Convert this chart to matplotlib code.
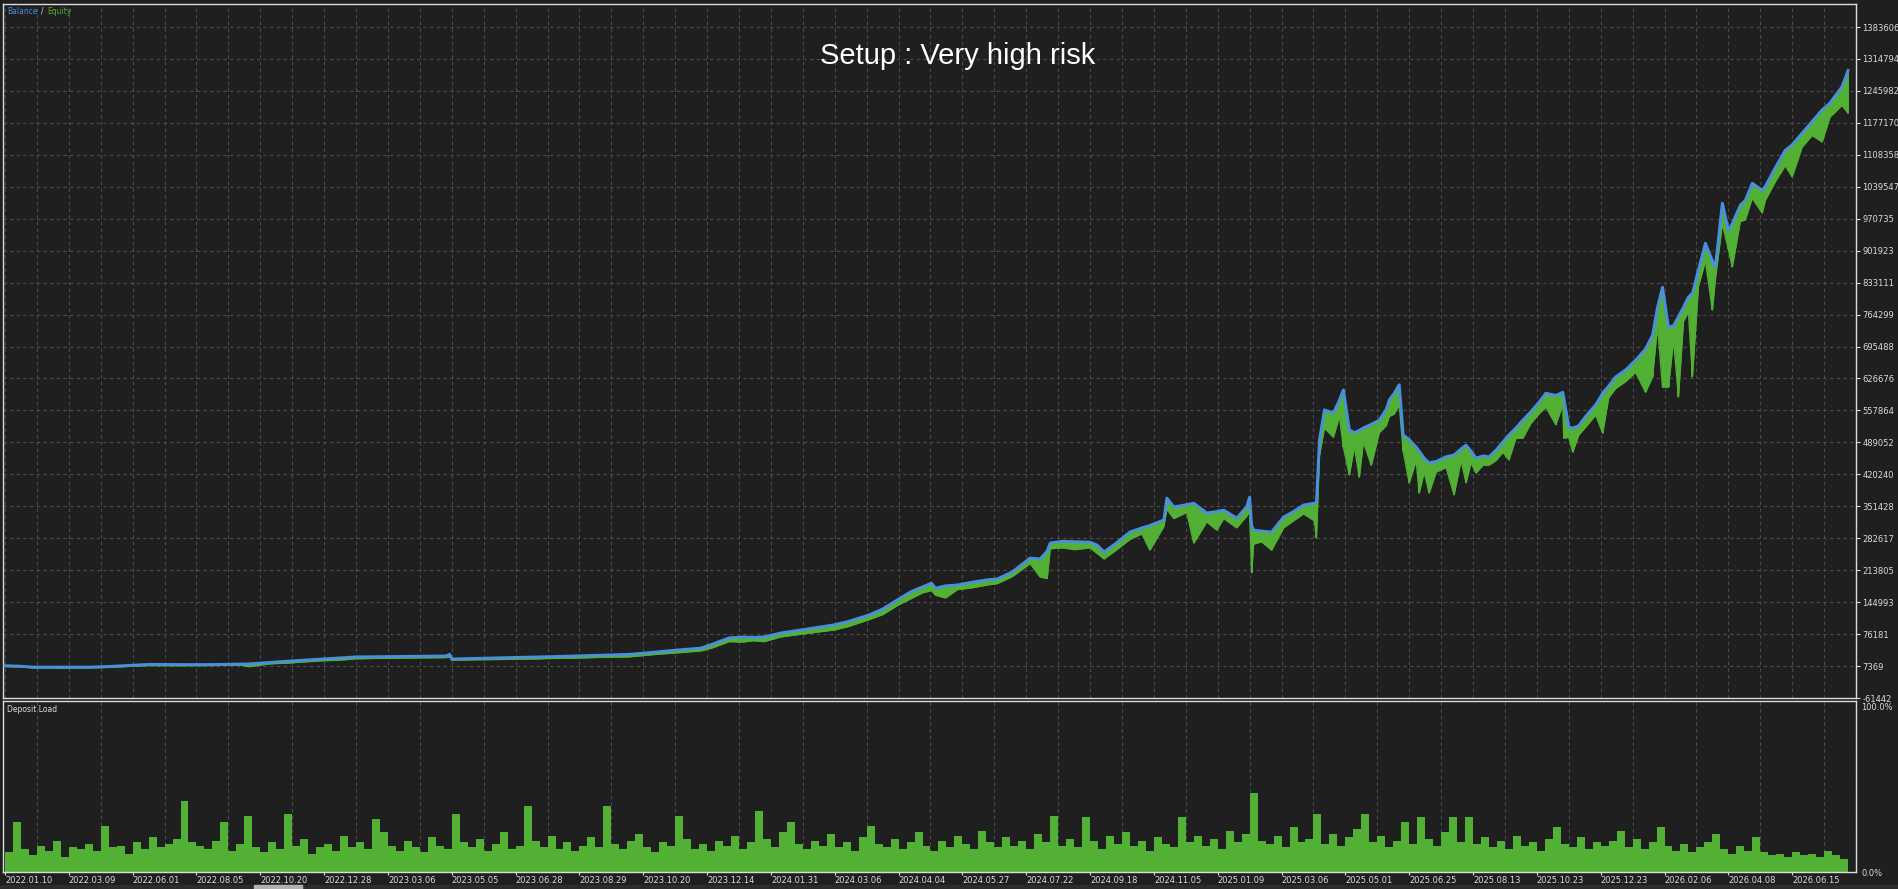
import numpy as np
import matplotlib
matplotlib.use("Agg")
import matplotlib.pyplot as plt
from matplotlib.patches import Rectangle

# Balance / equity curve (x = deal index)
deal_x = [0, 15, 28, 55, 85, 105, 118, 145, 175, 208, 235, 245, 265, 285, 315, 335, 352, 375, 395, 415,
          442, 446, 448, 475, 495, 525, 555, 580, 603, 625, 640, 655, 675, 698, 710, 726, 740, 750,
          761, 778, 795, 813, 831, 845, 866, 880, 895, 908, 920, 929, 933, 943, 955, 970, 985, 995,
          1010, 1028, 1038, 1045, 1048, 1060, 1073, 1088, 1095, 1102, 1113, 1128, 1140, 1148, 1162,
          1165, 1172, 1185, 1192, 1205, 1215, 1222, 1235, 1245, 1248, 1250, 1252, 1260, 1270, 1282,
          1292, 1302, 1313, 1315, 1318, 1323, 1332, 1338, 1342, 1348, 1353, 1358, 1362, 1370, 1378,
          1385, 1388, 1393, 1398, 1402, 1408, 1415, 1418, 1423, 1428, 1435, 1445, 1453, 1460, 1465,
          1470, 1475, 1482, 1488, 1495, 1502, 1508, 1515, 1522, 1530, 1538, 1545, 1555, 1562, 1563,
          1568, 1572, 1578, 1585, 1595, 1602, 1608, 1615, 1625, 1635, 1645, 1652, 1657, 1662, 1668,
          1673, 1678, 1683, 1688, 1692, 1698, 1705, 1712, 1715, 1722, 1728, 1732, 1740, 1745, 1752,
          1762, 1765, 1775, 1785, 1792, 1802, 1812, 1822, 1830, 1835, 1842, 1848]
balance = [8000, 7000, 5000, 5000, 5000, 6500, 8000, 11000, 10500, 10500, 11500, 12000, 15000, 18000,
           22000, 24500, 27000, 27500, 28000, 28500, 29000, 32500, 22500, 24000, 25000, 26500, 28000,
           29500, 31000, 32500, 35000, 38000, 42000, 46000, 55000, 68000, 70000, 69000, 70000, 78500,
           84000, 90000, 96000, 103000, 117000, 130000, 150000, 167000, 178000, 186000, 175000,
           180000, 182000, 188000, 193000, 195000, 210000, 240000, 238000, 255000, 272000, 276000,
           275000, 274000, 268000, 253000, 270000, 296000, 305000, 310000, 322000, 369000, 350000,
           355000, 358000, 337000, 340000, 343000, 326000, 350000, 371000, 310000, 300000, 298000,
           296000, 328000, 340000, 354000, 358000, 360000, 494000, 559000, 552000, 580000, 602000,
           516000, 510000, 515000, 520000, 528000, 537000, 560000, 580000, 595000, 613000, 505000,
           495000, 479000, 470000, 455000, 445000, 448000, 458000, 462000, 475000, 483000, 470000,
           455000, 460000, 458000, 472000, 490000, 505000, 520000, 537000, 555000, 575000, 595000,
           590000, 597000, 585000, 522000, 520000, 525000, 545000, 570000, 595000, 610000, 630000,
           645000, 666000, 690000, 720000, 780000, 823000, 737000, 740000, 760000, 780000, 802000,
           810000, 860000, 918000, 880000, 867000, 1004000, 946000, 960000, 1000000, 1010000,
           1047000, 1032000, 1040000, 1080000, 1118000, 1130000, 1155000, 1180000, 1205000,
           1220000, 1235000, 1255000, 1290000]
equity = [6500, 5500, 3500, 3000, 3500, 4500, 6000, 8500, 8000, 8500, 9500, 6000, 12000, 14000,
          18500, 20000, 23000, 24000, 24500, 25000, 25500, 27000, 20000, 21000, 21500, 22500, 24000,
          25000, 26500, 27000, 30000, 33000, 36000, 40000, 47000, 60000, 59000, 62000, 60000, 70000,
          75000, 80000, 85000, 92000, 107000, 118000, 138000, 152000, 165000, 170000, 160000,
          154000, 172000, 176000, 182000, 185000, 200000, 228000, 199000, 196000, 260000, 262000,
          258000, 262000, 250000, 238000, 255000, 280000, 292000, 257000, 308000, 345000, 325000,
          338000, 272000, 318000, 300000, 325000, 305000, 330000, 340000, 208000, 270000, 275000,
          257000, 305000, 320000, 335000, 320000, 283000, 460000, 520000, 500000, 545000, 479000,
          419000, 480000, 414000, 490000, 440000, 510000, 525000, 545000, 550000, 570000, 470000,
          402000, 450000, 380000, 425000, 380000, 425000, 435000, 376000, 450000, 402000, 445000,
          423000, 440000, 440000, 450000, 468000, 451000, 498000, 498000, 530000, 550000, 565000,
          527000, 570000, 498000, 500000, 468000, 505000, 522000, 548000, 509000, 585000, 605000,
          620000, 640000, 597000, 630000, 740000, 608000, 608000, 710000, 587000, 750000, 770000,
          630000, 825000, 880000, 774000, 840000, 960000, 905000, 867000, 965000, 968000,
          1015000, 983000, 1010000, 1050000, 1085000, 1061000, 1125000, 1150000, 1136000,
          1190000, 1200000, 1215000, 1198000]

# Deposit load in %, one value per 8 deals
deposit_load = [12, 30, 14, 10, 16, 13, 19, 9, 15, 14,
                17, 13, 28, 15, 16, 11, 18, 14, 21, 15,
                17, 20, 43, 18, 16, 14, 19, 30, 13, 17,
                34, 15, 12, 18, 14, 35, 16, 20, 11, 15,
                17, 13, 22, 15, 18, 14, 32, 24, 16, 13,
                19, 15, 12, 21, 16, 14, 35, 18, 15, 20,
                13, 17, 24, 14, 16, 40, 19, 15, 22, 14,
                18, 13, 16, 21, 15, 40, 17, 14, 19, 23,
                15, 12, 18, 16, 34, 20, 14, 17, 13, 19,
                16, 22, 14, 18, 37, 20, 15, 24, 30, 17,
                14, 19, 16, 23, 15, 18, 13, 21, 28, 17,
                15, 20, 14, 18, 24, 16, 13, 19, 15, 22,
                17, 14, 25, 18, 15, 21, 16, 19, 14, 23,
                18, 34, 16, 20, 15, 33, 19, 14, 22, 17,
                24, 16, 19, 13, 21, 17, 15, 33, 18, 22,
                16, 20, 14, 25, 18, 23, 48, 19, 17, 22,
                15, 27, 18, 20, 35, 17, 23, 16, 21, 26,
                35, 18, 22, 15, 19, 30, 17, 33, 20, 16,
                24, 33, 18, 33, 17, 21, 15, 19, 14, 22,
                16, 18, 13, 20, 27, 17, 15, 21, 14, 18,
                16, 19, 25, 15, 20, 14, 18, 27, 16, 13,
                17, 12, 15, 18, 23, 14, 11, 16, 13, 21,
                12, 10, 11, 9, 12, 10, 11, 9, 13, 10,
                8]

date_labels = ["2022.01.10", "2022.03.09", "2022.06.01", "2022.08.05", "2022.10.20", "2022.12.28",
               "2023.03.06", "2023.05.05", "2023.06.28", "2023.08.29", "2023.10.20", "2023.12.14",
               "2024.01.31", "2024.03.06", "2024.04.04", "2024.05.27", "2024.07.22", "2024.09.18",
               "2024.11.05", "2025.01.09", "2025.03.06", "2025.05.01", "2025.06.25", "2025.08.13",
               "2025.10.23", "2025.12.23", "2026.02.06", "2026.04.08", "2026.06.15"]
y_labels = ["-61442", "7369", "76181", "144993", "213805", "282617", "351428", "420240", "489052",
            "557864", "626676", "695488", "764299", "833111", "901923", "970735", "1039547",
            "1108358", "1177170", "1245982", "1314794", "1383606"]

BG = "#1f1f1f"
FG = "#dcdcdc"
BLUE = "#4a8fdc"
GREEN = "#52b135"
GRID = "#4d4d4d"
FS = 6.0

plt.rcParams["font.family"] = ["DejaVu Sans"]

W, H = 1899, 889
fig = plt.figure(figsize=(W / 100, H / 100), dpi=100, facecolor=BG)


def box(x0, y0, x1, y1):
    # pixel box -> figure fraction
    return [x0 / W, 1 - y1 / H, (x1 - x0) / W, (y1 - y0) / H]


ax = fig.add_axes(box(3, 4, 1856, 698), facecolor=BG)
ax2 = fig.add_axes(box(3, 701, 1856, 872), facecolor=BG)

tick_step = 64
label_pos = [i * tick_step for i in range(len(date_labels))]
grid_pos = [i * tick_step / 2 for i in range(2 * len(date_labels) + 1)]

for a in (ax, ax2):
    a.set_xlim(-2, 1851)
    for s in a.spines.values():
        s.set_color(FG)
        s.set_linewidth(1.0)
    a.set_xticks(grid_pos, minor=True)
    a.grid(True, which="minor", axis="x", color=GRID, linestyle=(0, (3, 3)), linewidth=0.8)
    a.tick_params(which="minor", length=0)

# main panel
yvals = [int(v) for v in y_labels]
ax.set_ylim(-61442, 1433139)
ax.set_yticks(yvals)
ax.set_yticklabels(y_labels)
ax.yaxis.tick_right()
ax.tick_params(axis="y", colors=FG, labelsize=FS, length=3, pad=1.5, direction="out")
ax.set_xticks([])
ax.grid(True, which="major", axis="y", color=GRID, linestyle=(0, (3, 3)), linewidth=0.8)
ax.set_axisbelow(True)

ax.fill_between(deal_x, equity, balance, color=GREEN, linewidth=0, zorder=2)
ax.vlines(deal_x, equity, balance, color=GREEN, linewidth=1.4, zorder=2)
ax.plot(deal_x, equity, color=GREEN, linewidth=1.0, zorder=2)
ax.plot(deal_x, balance, color=BLUE, linewidth=2.1, zorder=3)

fig.text(7 / W, 1 - 11 / H, "Balance", color=BLUE, fontsize=5.5, ha="left", va="center")
fig.text(41 / W, 1 - 11 / H, "/", color=FG, fontsize=5.5, ha="left", va="center")
fig.text(47 / W, 1 - 11 / H, "Equity", color=GREEN, fontsize=5.5, ha="left", va="center")
fig.text(958 / W, 1 - 56 / H, "Setup : Very high risk", color="white", fontsize=21,
         family=["Liberation Sans", "DejaVu Sans"], ha="center", va="center")

# deposit load panel
bin_x = np.arange(len(deposit_load)) * 8 + 4
ax2.bar(bin_x, deposit_load, width=8, color=GREEN, linewidth=0, zorder=2)
ax2.set_ylim(0, 103.5)
ax2.set_yticks([0, 100])
ax2.set_yticklabels(["0.0%", "100.0%"])
ax2.yaxis.tick_right()
ax2.tick_params(axis="y", colors=FG, labelsize=FS, length=0, pad=4)
ax2.set_xticks(label_pos)
ax2.set_xticklabels(date_labels, ha="left")
ax2.tick_params(axis="x", colors=FG, labelsize=FS, length=2, pad=1)
fig.text(7 / W, 1 - 709 / H, "Deposit Load", color=FG, fontsize=5.5, ha="left", va="center")

# scrollbar strip at the bottom
fig.add_artist(Rectangle((0, 0), 1, 4 / H, transform=fig.transFigure, color="#2c2c2c", zorder=0))
fig.add_artist(Rectangle((254 / W, 0), 48 / W, 4 / H, transform=fig.transFigure, color="#b0b0b0"))

fig.savefig("out.png", dpi=100, facecolor=BG)
